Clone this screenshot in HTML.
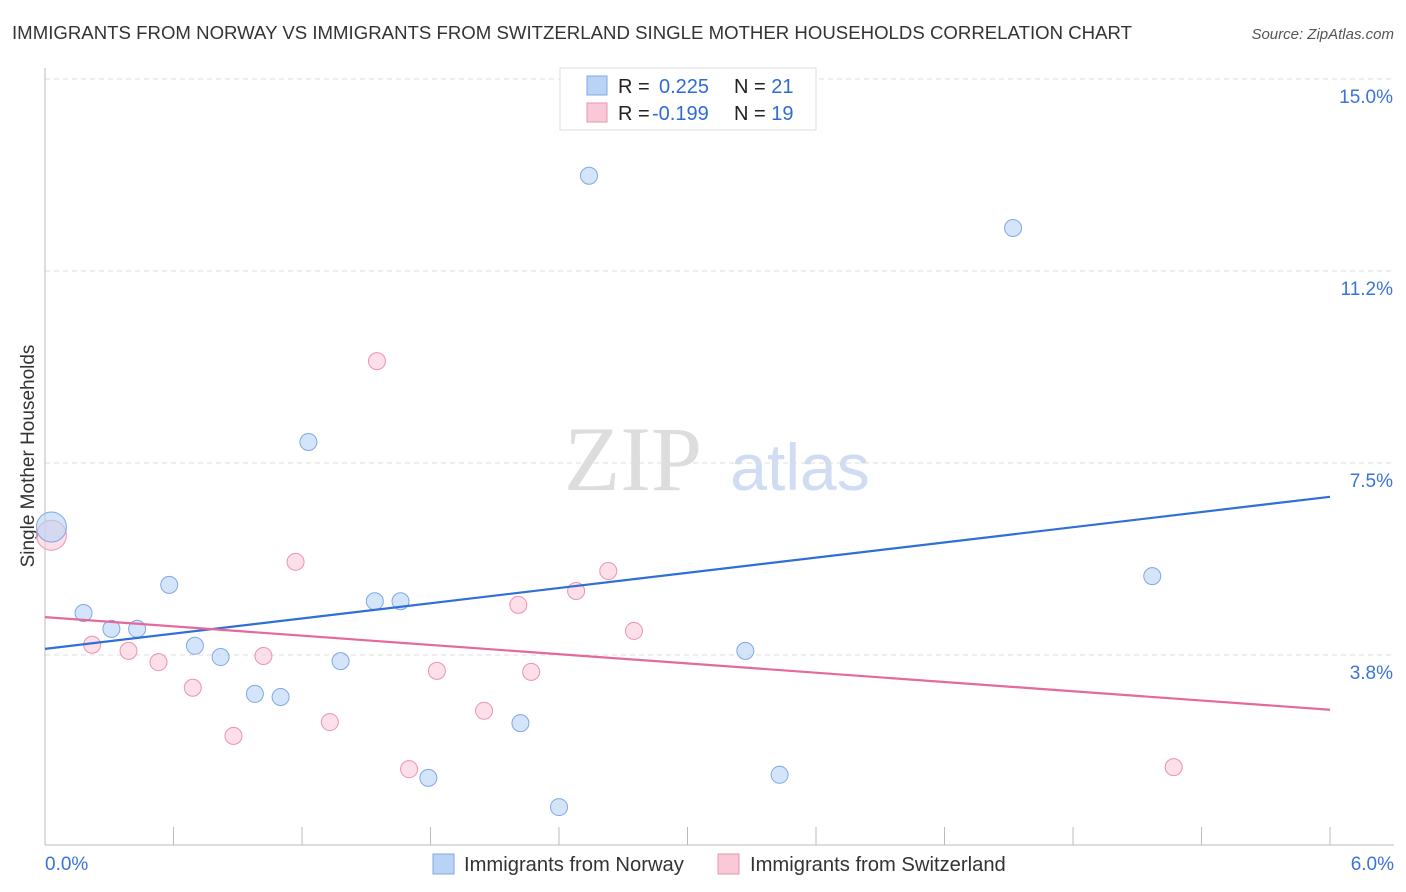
<!DOCTYPE html>
<html><head><meta charset="utf-8"><style>
body{margin:0;background:#fff;font-family:"Liberation Sans",sans-serif;}
svg{display:block}
</style></head><body>
<svg id="chart" width="1406" height="892">
<text x="12" y="39" font-size="18.6" fill="#333" textLength="1120">IMMIGRANTS FROM NORWAY VS IMMIGRANTS FROM SWITZERLAND SINGLE MOTHER HOUSEHOLDS CORRELATION CHART</text>
<text x="1394" y="39" font-size="15" fill="#555" font-style="italic" text-anchor="end">Source: ZipAtlas.com</text>
<text x="633" y="490" font-size="92" fill="#ddd" font-family="Liberation Serif,serif" text-anchor="middle">ZIP</text>
<text x="800" y="490" font-size="66" fill="#cfdcf3" text-anchor="middle">atlas</text>
<text transform="translate(34,456) rotate(-90)" font-size="19" fill="#333" text-anchor="middle">Single Mother Households</text>
<g id="grid"></g><g id="marks"></g>
<g>
<rect x="560" y="68" width="256" height="62" fill="#fff" stroke="#ddd"/>
<rect x="587" y="76" width="20" height="19" fill="#b9d3f5" stroke="#7ea8e6"/>
<rect x="587" y="103" width="20" height="19" fill="#fac9d8" stroke="#eb93b0"/>
<text x="618" y="93" font-size="20" fill="#222">R = <tspan x="659" fill="#2f6bd6">0.225</tspan><tspan x="734" fill="#222">N = </tspan><tspan fill="#2f6bd6">21</tspan></text>
<text x="618" y="120" font-size="20" fill="#222">R = <tspan x="652" fill="#2f6bd6">-0.199</tspan><tspan x="734" fill="#222">N = </tspan><tspan fill="#2f6bd6">19</tspan></text>
</g>
<g>
<rect x="433" y="854" width="21" height="20" fill="#b9d3f5" stroke="#7ea8e6"/>
<text x="464" y="871" font-size="20.2" fill="#333">Immigrants from Norway</text>
<rect x="718" y="854" width="21" height="20" fill="#fac9d8" stroke="#eb93b0"/>
<text x="750" y="871" font-size="20.2" fill="#333">Immigrants from Switzerland</text>
</g>
<text x="45" y="870" font-size="19" fill="#3b73d9">0.0%</text>
<text x="1394" y="870" font-size="19" fill="#3b73d9" text-anchor="end">6.0%</text>
</svg>
<script>
const yTicks=[3.75,7.5,11.25,15];
const yTickLabels=["3.8%","7.5%","11.2%","15.0%"];
const norwayX=[0.03,0.18,0.31,0.43,0.58,0.70,0.82,0.98,1.10,1.23,1.38,1.54,1.66,1.79,2.22,2.40,2.54,3.27,3.43,4.52,5.17];
const norwayY=[6.25,4.57,4.26,4.26,5.12,3.93,3.71,2.99,2.93,7.91,3.63,4.80,4.80,1.35,2.42,0.78,13.11,3.83,1.41,12.09,5.29];
const swissX=[0.03,0.22,0.39,0.53,0.69,0.88,1.02,1.17,1.33,1.55,1.70,1.83,2.05,2.21,2.27,2.48,2.63,2.75,5.27];
const swissY=[6.09,3.95,3.83,3.61,3.11,2.17,3.73,5.57,2.44,9.49,1.52,3.44,2.66,4.73,3.42,5.00,5.39,4.22,1.56];
const norwayTrend=[3.87,6.84];
const swissTrend=[4.49,2.68];
const X=v=>45+v*214.17, Y=v=>847-v*51.2;
const NS="http://www.w3.org/2000/svg";
function mk(t,a,p){const e=document.createElementNS(NS,t);for(const k in a)e.setAttribute(k,a[k]);p.appendChild(e);return e;}
const g=document.getElementById('grid'),m=document.getElementById('marks');
yTicks.forEach((v,i)=>{
 const l=mk('line',{x1:45,x2:1394,y1:Y(v),y2:Y(v),stroke:'#ddd','stroke-dasharray':'5,4'},g);
 
 
 const t=mk('text',{x:1393,y:Y(v)+24,'font-size':19,fill:'#3b73d9','text-anchor':'end'},g);
 t.textContent=yTickLabels[i];
 
 
});
const ax=mk('line',{x1:45,x2:45,y1:68,y2:845,stroke:'#bbb'},g);


const bx=mk('line',{x1:45,x2:1394,y1:845,y2:845,stroke:'#bbb'},g);


for(let i=0;i<=10;i++){
 const t=mk('line',{x1:X(i*0.6),x2:X(i*0.6),y1:827,y2:845,stroke:'#bbb'},g);
 
 
}
function pts(xs,ys,fill,stroke,name){
 xs.forEach((x,i)=>{
  const r=i===0?15:8.5;
  const c=mk('circle',{cx:X(x),cy:Y(ys[i]),r:r,fill:fill,stroke:stroke,'fill-opacity':0.6},m);
  
  
 });
}
pts(swissX,swissY,'#fac9d8','#eb93b0','point-switzerland');
pts(norwayX,norwayY,'#b9d3f5','#7ea8e6','point-norway');
const l1=mk('line',{x1:X(0),x2:X(6),y1:Y(norwayTrend[0]),y2:Y(norwayTrend[1]),stroke:'#2f6fd6','stroke-width':2.2},m);


const l2=mk('line',{x1:X(0),x2:X(6),y1:Y(swissTrend[0]),y2:Y(swissTrend[1]),stroke:'#e5699a','stroke-width':2.2},m);


</script>
</body></html>
